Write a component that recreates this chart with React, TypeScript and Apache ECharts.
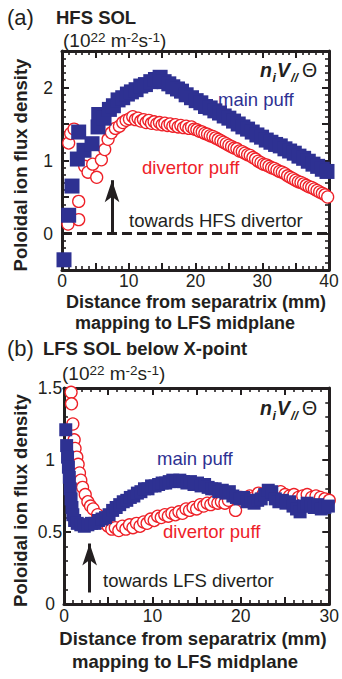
import React, { useEffect, useRef } from 'react';
import * as echarts from 'echarts';

// ---------- data ----------
// (a) HFS SOL, x = distance from separatrix (mm), y = poloidal ion flux density (1e22 m^-2 s^-1)
const hfsMainPuff: [number, number][] = [
  [0.3, -0.36], [1.0, 0.25], [1.5, 0.65], [2.3, 1.02], [2.5, 1.39], [3.3, 1.14], [4.5, 1.23],
  [5.4, 1.46], [5.5, 1.63], [6.3, 1.58], [7.1, 1.70], [7.7, 1.75], [8.4, 1.83], [9.1, 1.86],
  [9.8, 1.91], [10.4, 1.94], [11.1, 1.97], [11.8, 2.02], [12.5, 2.04], [13.3, 2.08], [14.0, 2.11],
  [14.7, 2.14], [15.3, 2.08], [16.0, 2.05], [16.6, 2.01], [17.3, 1.98], [17.9, 1.95], [18.6, 1.90],
  [19.4, 1.86], [20.1, 1.82], [20.8, 1.79], [21.5, 1.74], [22.2, 1.72], [22.9, 1.68], [23.6, 1.65],
  [24.3, 1.61], [25.0, 1.58], [25.7, 1.54], [26.4, 1.50], [27.1, 1.46], [27.8, 1.43], [28.5, 1.39],
  [29.2, 1.35], [29.9, 1.32], [30.6, 1.28], [31.3, 1.25], [32.0, 1.22], [32.7, 1.20], [33.4, 1.16],
  [34.1, 1.13], [34.8, 1.10], [35.5, 1.06], [36.2, 1.03], [36.9, 0.99], [37.6, 0.95], [38.3, 0.92],
  [39.0, 0.88], [39.7, 0.85],
];
const hfsDivertorPuff: [number, number][] = [
  [0.9, 0.13], [1.0, 1.24], [1.3, 1.37], [1.8, 1.43], [2.5, 0.19], [2.5, 0.44], [3.4, 0.92],
  [3.9, 0.84], [4.6, 0.95], [5.2, 0.77], [5.9, 1.01], [6.4, 1.15], [6.9, 1.29], [7.4, 1.38],
  [8.0, 1.44], [8.6, 1.47], [9.1, 1.52], [9.6, 1.55], [10.1, 1.57], [10.6, 1.60], [11.0, 1.56],
  [11.4, 1.58], [11.8, 1.54], [12.2, 1.56], [12.6, 1.52], [13.0, 1.55], [13.4, 1.51], [13.8, 1.53],
  [14.2, 1.50], [14.6, 1.52], [15.0, 1.49], [15.4, 1.51], [15.8, 1.48], [16.2, 1.50], [16.6, 1.47],
  [17.0, 1.49], [17.4, 1.46], [17.8, 1.48], [18.2, 1.45], [18.6, 1.47], [19.0, 1.44], [19.4, 1.46],
  [19.8, 1.43], [20.2, 1.42], [20.6, 1.40], [21.0, 1.39], [21.4, 1.37], [21.8, 1.36], [22.2, 1.34],
  [22.6, 1.33], [23.0, 1.31], [23.4, 1.29], [23.8, 1.27], [24.2, 1.25], [24.6, 1.23], [25.0, 1.21],
  [25.4, 1.19], [25.8, 1.17], [26.2, 1.16], [26.6, 1.13], [27.0, 1.12], [27.4, 1.10], [27.8, 1.08],
  [28.2, 1.07], [28.6, 1.04], [29.0, 1.02], [29.4, 0.99], [29.8, 0.97], [30.2, 0.95], [30.6, 0.94],
  [31.0, 0.92], [31.4, 0.90], [31.8, 0.89], [32.2, 0.87], [32.6, 0.85], [33.0, 0.84], [33.4, 0.82],
  [33.8, 0.79], [34.2, 0.77], [34.6, 0.75], [35.0, 0.73], [35.4, 0.71], [35.8, 0.70], [36.2, 0.68],
  [36.6, 0.66], [37.0, 0.64], [37.4, 0.63], [37.8, 0.61], [38.2, 0.59], [38.6, 0.57], [39.0, 0.55],
  [39.4, 0.53], [39.8, 0.50],
];

// (b) LFS SOL below X-point
const lfsMainPuff: [number, number][] = [
  [0.2, 1.21], [0.3, 1.10], [0.4, 1.02], [0.5, 0.95], [0.6, 0.88], [0.7, 0.80], [0.8, 0.73],
  [0.9, 0.67], [1.0, 0.62], [1.2, 0.58], [1.5, 0.56], [1.9, 0.55], [2.3, 0.54], [2.7, 0.55],
  [3.1, 0.56], [3.5, 0.56], [3.9, 0.58], [4.3, 0.59], [4.7, 0.60], [5.1, 0.62], [5.5, 0.65],
  [5.9, 0.67], [6.3, 0.69], [6.7, 0.71], [7.1, 0.72], [7.5, 0.74], [7.9, 0.75], [8.3, 0.77],
  [8.7, 0.78], [9.1, 0.80], [9.5, 0.80], [9.9, 0.82], [10.3, 0.82], [10.7, 0.83], [11.1, 0.84],
  [11.5, 0.84], [11.9, 0.85], [12.3, 0.86], [12.7, 0.85], [13.1, 0.86], [13.5, 0.85], [13.9, 0.84],
  [14.3, 0.85], [14.7, 0.83], [15.1, 0.84], [15.5, 0.82], [15.9, 0.83], [16.3, 0.81], [16.7, 0.80],
  [17.1, 0.80], [17.5, 0.78], [17.9, 0.79], [18.3, 0.77], [18.7, 0.78], [19.1, 0.75], [19.5, 0.74],
  [19.9, 0.73], [20.3, 0.74], [20.7, 0.71], [21.1, 0.72], [21.5, 0.70], [21.9, 0.72], [22.3, 0.73],
  [22.7, 0.76], [23.1, 0.79], [23.5, 0.78], [23.9, 0.73], [24.3, 0.71], [24.7, 0.72], [25.1, 0.70],
  [25.5, 0.71], [25.9, 0.68], [26.3, 0.66], [26.7, 0.64], [27.1, 0.68], [27.5, 0.70], [27.9, 0.68],
  [28.3, 0.67], [28.7, 0.69], [29.1, 0.66], [29.5, 0.67], [29.9, 0.68],
];
const lfsDivertorPuff: [number, number][] = [
  [0.8, 1.47], [0.85, 1.39], [1.0, 1.25], [1.15, 1.14], [1.25, 1.08], [1.45, 1.02], [1.6, 0.97],
  [1.75, 0.91], [1.9, 0.86], [2.1, 0.81], [2.4, 0.76], [2.7, 0.71], [3.0, 0.68], [3.3, 0.66],
  [3.8, 0.62], [4.2, 0.59], [4.6, 0.56], [5.0, 0.54], [5.4, 0.52], [5.8, 0.53], [6.2, 0.51],
  [6.6, 0.54], [7.0, 0.52], [7.4, 0.55], [7.8, 0.53], [8.2, 0.56], [8.6, 0.54], [9.0, 0.57],
  [9.4, 0.56], [9.8, 0.59], [10.2, 0.58], [10.6, 0.61], [11.0, 0.60], [11.4, 0.62], [11.8, 0.61],
  [12.2, 0.63], [12.6, 0.62], [13.0, 0.64], [13.4, 0.63], [13.8, 0.66], [14.2, 0.65], [14.6, 0.67],
  [15.0, 0.66], [15.4, 0.69], [15.8, 0.68], [16.2, 0.70], [16.6, 0.69], [17.0, 0.71], [17.4, 0.70],
  [17.8, 0.71], [18.2, 0.70], [18.6, 0.72], [19.4, 0.65], [20.0, 0.74], [20.5, 0.73], [21.0, 0.75],
  [21.5, 0.74], [22.0, 0.77], [22.5, 0.76], [23.0, 0.78], [23.5, 0.77], [24.0, 0.76], [24.5, 0.78],
  [25.0, 0.76], [25.5, 0.75], [26.0, 0.76], [26.5, 0.74], [27.0, 0.75], [27.5, 0.76], [28.0, 0.74],
  [28.5, 0.75], [29.0, 0.74], [29.5, 0.73], [30.0, 0.72],
];

// axis ranges
const hfsXRange = [0, 40];
const hfsYRange = [-0.5, 2.5];
const lfsXRange = [0, 30];
const lfsYRange = [0, 1.5];

// annotation arrows in data coordinates [x, from, to(head centre)]
const hfsArrow = [7.5, 0, 0.73];
const lfsArrow = [2.9, 0.08, 0.42];

// ---------- styles ----------
const FONT = '"Liberation Sans", Arial, Helvetica, sans-serif';
const BLUE = '#2e3192';
const RED = '#ee2128';
const INK = '#231f20';
const FS = 18.5;
const TICK_FS = 17.5;

function axisCommon(show: boolean) {
  return {
    type: 'value' as const,
    axisLine: { show: true, onZero: false, lineStyle: { color: INK, width: 3 } },
    axisTick: { show: true, inside: true, length: 7, lineStyle: { color: INK, width: 2 } },
    minorTick: { show: true, splitNumber: 5, length: 4, lineStyle: { color: INK, width: 1.6 } },
    splitLine: { show: false },
    minorSplitLine: { show: false },
    axisLabel: { show },
  };
}

function xAxisPair(grid: number, range: number[], margin: number) {
  const bottom: any = {
    ...axisCommon(true),
    gridIndex: grid,
    position: 'bottom',
    min: range[0],
    max: range[1],
    interval: 5,
    axisLabel: {
      show: true,
      margin,
      fontSize: TICK_FS,
      lineHeight: 16,
      fontFamily: FONT,
      color: INK,
      showMaxLabel: true,
      showMinLabel: true,
      formatter: (v: number) => (v % 10 === 0 ? String(v) : ''),
    },
  };
  const top: any = { ...axisCommon(false), gridIndex: grid, position: 'top', min: range[0], max: range[1], interval: 5 };
  return [bottom, top];
}

function yAxisPair(grid: number, range: number[], fmt: (v: number) => string) {
  const left: any = {
    ...axisCommon(true),
    gridIndex: grid,
    position: 'left',
    min: range[0],
    max: range[1],
    interval: 0.5,
    axisLabel: {
      show: true,
      margin: 14,
      align: 'center',
      fontSize: TICK_FS,
      lineHeight: 16,
      fontFamily: FONT,
      color: INK,
      showMaxLabel: true,
      showMinLabel: true,
      formatter: fmt,
    },
  };
  const right: any = { ...axisCommon(false), gridIndex: grid, position: 'right', min: range[0], max: range[1], interval: 0.5 };
  return [left, right];
}

function txt(x: number, y: number, text: string, opts: any = {}) {
  return {
    type: 'text',
    x,
    y,
    silent: true,
    rotation: opts.rotation || 0,
    style: {
      text,
      fontFamily: FONT,
      fontSize: opts.fontSize || FS,
      fontWeight: opts.fontWeight || 'normal',
      fontStyle: opts.fontStyle || 'normal',
      lineHeight: opts.lineHeight || Math.round((opts.fontSize || FS) * 0.9),
      fill: opts.fill || INK,
      align: opts.align || 'left',
      verticalAlign: 'middle',
    },
  };
}

function units(x: number, y: number) {
  return {
    type: 'text',
    x,
    y,
    silent: true,
    style: {
      text: '{m|(10}{s|22}{m| m}{s|-2}{m|s}{s|-1}{m|)}',
      align: 'left',
      verticalAlign: 'middle',
      fill: INK,
      rich: {
        m: { fontFamily: FONT, fontSize: 19, lineHeight: 20, fill: INK, color: INK },
        s: { fontFamily: FONT, fontSize: 13.5, lineHeight: 13, verticalAlign: 'top', fill: INK, color: INK },
      },
    },
  };
}

function fluxSymbol(x: number, y: number) {
  const bi = { fontWeight: 'bold', fontStyle: 'italic', fontSize: 19.5 };
  const sub = { fontWeight: 'bold', fontStyle: 'italic', fontSize: 12.5 };
  return [
    txt(x, y, 'n', bi),
    txt(x + 12.5, y + 8, 'i', sub),
    txt(x + 17, y, 'V', bi),
    txt(x + 31, y + 8, '//', sub),
    txt(x + 42, y, 'Θ', { fontSize: 19.5 }),
  ];
}

function arrowLine(a: number[]) {
  return [
    { coord: [a[0], a[1]], symbol: 'none' },
    { coord: [a[0], a[2]], symbol: 'arrow', symbolSize: [11, 22] },
  ];
}

export default function App() {
  const ref = useRef<HTMLDivElement>(null);

  useEffect(() => {
    if (!ref.current) return;
    const chart = echarts.init(ref.current, null, { renderer: 'svg', width: 342, height: 679 });

    const markLineBase = {
      silent: true,
      animation: false,
      symbol: ['none', 'none'],
      label: { show: false },
      emphasis: { disabled: true },
      lineStyle: { color: INK, width: 3, type: 'solid' },
    };

    const titleA = { fontWeight: 'bold', align: 'center', fontSize: 18, lineHeight: 16 };

    const option: any = {
      animation: false,
      backgroundColor: '#ffffff',
      grid: [
        { left: 62, top: 51, width: 267, height: 219 },
        { left: 64, top: 388, width: 269, height: 216 },
      ],
      xAxis: [...xAxisPair(0, hfsXRange, 3), ...xAxisPair(1, lfsXRange, 4)],
      yAxis: [
        ...yAxisPair(0, hfsYRange, (v: number) => (Number.isInteger(v) ? String(v) : '')),
        ...yAxisPair(1, lfsYRange, (v: number) => String(v)),
      ],
      series: [
        {
          type: 'scatter',
          name: 'HFS divertor puff',
          xAxisIndex: 0,
          yAxisIndex: 0,
          data: hfsDivertorPuff,
          symbol: 'circle',
          symbolSize: 12,
          clip: false,
          z: 2,
          itemStyle: { color: '#ffffff', borderColor: RED, borderWidth: 1.3, opacity: 1 },
        },
        {
          type: 'scatter',
          name: 'HFS main puff',
          xAxisIndex: 0,
          yAxisIndex: 0,
          data: hfsMainPuff,
          symbol: 'rect',
          symbolSize: 15,
          clip: false,
          z: 3,
          itemStyle: { color: BLUE, opacity: 1 },
          markLine: {
            ...markLineBase,
            data: [
              { yAxis: 0, lineStyle: { color: INK, width: 3, type: [10, 5] } },
              arrowLine(hfsArrow),
            ],
          },
        },
        {
          type: 'scatter',
          name: 'LFS divertor puff',
          xAxisIndex: 2,
          yAxisIndex: 2,
          data: lfsDivertorPuff,
          symbol: 'circle',
          symbolSize: 12,
          clip: false,
          z: 2,
          itemStyle: { color: '#ffffff', borderColor: RED, borderWidth: 1.3, opacity: 1 },
        },
        {
          type: 'scatter',
          name: 'LFS main puff',
          xAxisIndex: 2,
          yAxisIndex: 2,
          data: lfsMainPuff,
          symbol: 'rect',
          symbolSize: 13,
          clip: false,
          z: 3,
          itemStyle: { color: BLUE, opacity: 1 },
          markLine: {
            ...markLineBase,
            data: [arrowLine(lfsArrow)],
          },
        },
      ],
      graphic: [
        // panel (a)
        txt(7, 17, '(a)', { fontSize: 22 }),
        txt(56, 17, 'HFS SOL', { fontWeight: 'bold' }),
        units(63, 40),
        ...fluxSymbol(260, 70),
        txt(218, 99.5, 'main puff', { fill: BLUE }),
        txt(142, 167.5, 'divertor puff', { fill: RED }),
        txt(129, 220, 'towards HFS divertor'),
        txt(196, 302, 'Distance from separatrix (mm)', titleA),
        txt(185, 323, 'mapping to LFS midplane', titleA),
        txt(20, 165, 'Poloidal ion flux density', { fontWeight: 'bold', align: 'center', rotation: Math.PI / 2 }),
        // panel (b)
        txt(7, 348, '(b)', { fontSize: 22 }),
        txt(43, 348, 'LFS SOL below X-point', { fontWeight: 'bold' }),
        units(62, 373),
        ...fluxSymbol(260, 408),
        txt(157, 458.5, 'main puff', { fill: BLUE }),
        txt(163, 531.5, 'divertor puff', { fill: RED }),
        txt(103, 580, 'towards LFS divertor'),
        txt(193, 638, 'Distance from separatrix (mm)', { fontWeight: 'bold', align: 'center', lineHeight: 16 }),
        txt(185, 661, 'mapping to LFS midplane', { fontWeight: 'bold', align: 'center', lineHeight: 16 }),
        txt(20, 500.5, 'Poloidal ion flux density', { fontWeight: 'bold', align: 'center', rotation: Math.PI / 2 }),
      ],
    };

    chart.setOption(option);
    return () => chart.dispose();
  }, []);

  return (
    <div
      ref={ref}
      style={{ position: 'fixed', left: 0, top: 0, width: 342, height: 679, background: '#fff' }}
    />
  );
}
